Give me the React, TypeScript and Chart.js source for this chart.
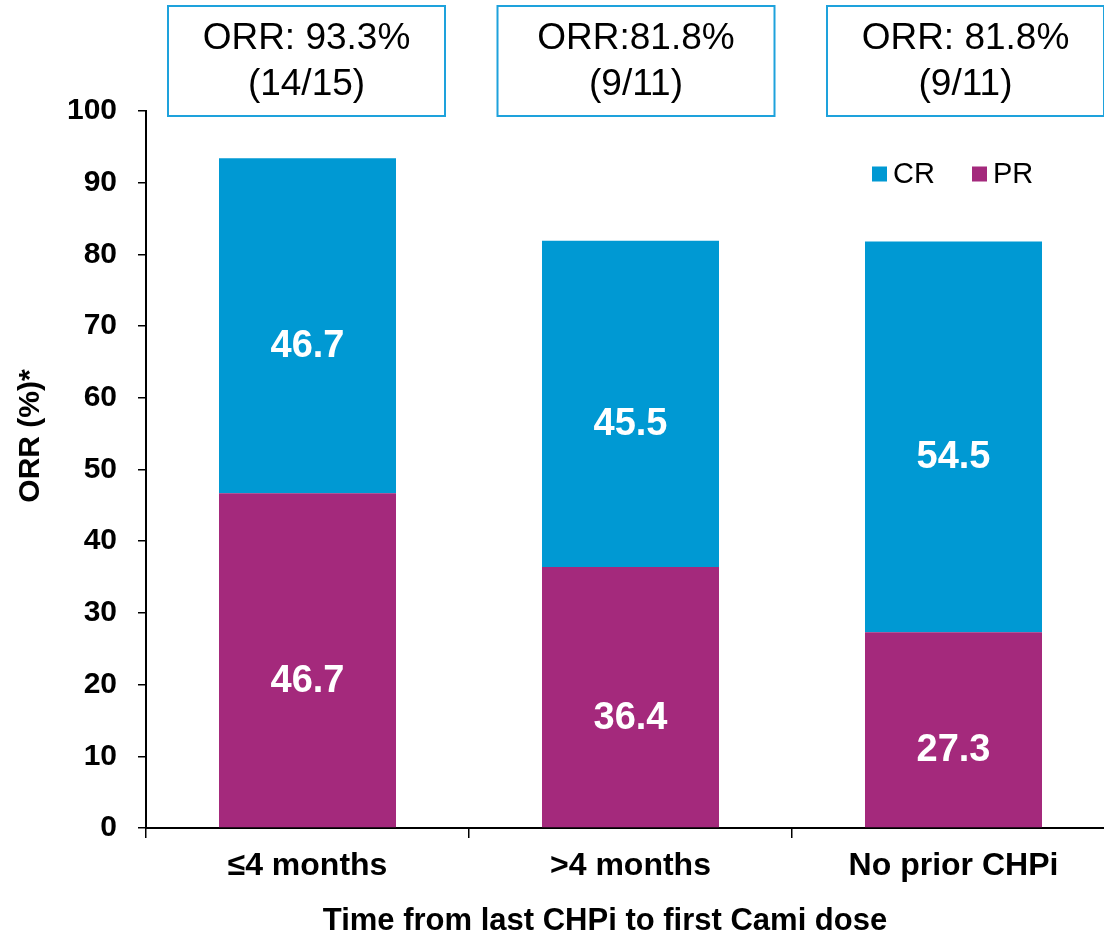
import React, { useEffect, useRef } from "react";
import { Chart, registerables } from "chart.js";

Chart.register(...registerables);

const FONT = 'Arial, "Liberation Sans", sans-serif';

const categories = ["\u22644 months", ">4 months", "No prior CHPi"];
const crValues = [46.7, 45.5, 54.5];
const prValues = [46.7, 36.4, 27.3];
const orrLine1 = ["ORR: 93.3%", "ORR:81.8%", "ORR: 81.8%"];
const orrLine2 = ["(14/15)", "(9/11)", "(9/11)"];
const yTicks = [0, 10, 20, 30, 40, 50, 60, 70, 80, 90, 100];
const xTitle = "Time from last CHPi to first Cami dose";
const yTitle = "ORR (%)*";

const CR_COLOR = "#0099D3";
const PR_COLOR = "#A4297C";
const BOX_COLOR = "#1EA2DC";

const overlayPlugin = {
  id: "overlay",
  afterDatasetsDraw(chart: any) {
    const ctx = chart.ctx;
    ctx.save();
    ctx.fillStyle = "#ffffff";
    ctx.font = `bold 38px ${FONT}`;
    ctx.textAlign = "center";
    ctx.textBaseline = "middle";
    chart.data.datasets.forEach((ds: any, di: number) => {
      const meta = chart.getDatasetMeta(di);
      meta.data.forEach((bar: any, i: number) => {
        const v = ds.data[i];
        const cy = (bar.y + bar.base) / 2 + 21;
        ctx.fillText(v.toFixed(1), bar.x, cy);
      });
    });
    ctx.restore();
  },
  afterDraw(chart: any) {
    const ctx = chart.ctx;
    const area = chart.chartArea;
    ctx.save();
    // ORR boxes
    categories.forEach((_, i) => {
      const cx = area.left + 160.5 + i * 329.5;
      const w = 277;
      const h = 110;
      const top = 6;
      ctx.fillStyle = "#ffffff";
      ctx.fillRect(cx - w / 2, top, w, h);
      ctx.strokeStyle = BOX_COLOR;
      ctx.lineWidth = 2;
      ctx.strokeRect(cx - w / 2, top, w, h);
      ctx.fillStyle = "#000000";
      ctx.font = `37px ${FONT}`;
      ctx.textAlign = "center";
      ctx.textBaseline = "middle";
      ctx.fillText(orrLine1[i], cx, 39);
      ctx.fillText(orrLine2[i], cx, 85);
    });
    // legend (CR, PR)
    const legendItems = [chart.data.datasets[1], chart.data.datasets[0]];
    let lx = area.right - 243;
    const ly = 174;
    legendItems.forEach((ds: any) => {
      ctx.fillStyle = ds.backgroundColor;
      ctx.fillRect(lx, ly - 7.5, 15, 15);
      ctx.fillStyle = "#000000";
      ctx.font = `29px ${FONT}`;
      ctx.textAlign = "left";
      ctx.textBaseline = "middle";
      ctx.fillText(ds.label, lx + 21, ly + 1);
      lx += 100;
    });
    // axis titles
    ctx.fillStyle = "#000000";
    ctx.font = `bold 31px ${FONT}`;
    ctx.textAlign = "center";
    ctx.textBaseline = "middle";
    ctx.fillText(xTitle, area.left + 459, 921);
    ctx.save();
    ctx.translate(31, 436);
    ctx.rotate(-Math.PI / 2);
    ctx.font = `bold 30px ${FONT}`;
    ctx.fillText(yTitle, 0, 0);
    ctx.restore();
    ctx.restore();
  },
};

export default function App() {
  const ref = useRef<HTMLCanvasElement | null>(null);

  useEffect(() => {
    if (!ref.current) return;
    const chart = new Chart(ref.current, {
      type: "bar",
      data: {
        labels: categories,
        datasets: [
          {
            label: "PR",
            data: prValues,
            backgroundColor: PR_COLOR,
            categoryPercentage: 1,
            barPercentage: 0.548,
          },
          {
            label: "CR",
            data: crValues,
            backgroundColor: CR_COLOR,
            categoryPercentage: 1,
            barPercentage: 0.548,
          },
        ],
      },
      options: {
        responsive: false,
        animation: false,
        layout: { padding: { top: 111, left: 0, right: 0, bottom: 0 } },
        plugins: {
          legend: { display: false },
          tooltip: { enabled: false },
        },
        scales: {
          x: {
            stacked: true,
            offset: true,
            border: { display: true, color: "#000000", width: 2 },
            grid: {
              offset: true,
              drawOnChartArea: false,
              drawTicks: true,
              tickLength: 10,
              color: "#000000",
              lineWidth: 1.5,
            },
            ticks: {
              color: "#000000",
              padding: 9,
              font: { family: FONT, size: 32, weight: "bold" },
              maxRotation: 0,
            },
            title: { display: false },
            afterFit(scale: any) {
              scale.height = 109;
            },
          },
          y: {
            stacked: true,
            min: 0,
            max: 100,
            afterBuildTicks(scale: any) {
              scale.ticks = yTicks.map((v) => ({ value: v }));
            },
            border: { display: true, color: "#000000", width: 2 },
            grid: {
              drawOnChartArea: false,
              drawTicks: true,
              tickLength: 8,
              color: "#000000",
              lineWidth: 1.5,
            },
            ticks: {
              color: "#000000",
              padding: 21,
              font: { family: FONT, size: 30, weight: "bold" },
            },
            title: { display: false },
            afterFit(scale: any) {
              scale.width = 146;
            },
          },
        },
      },
      plugins: [overlayPlugin],
    } as any);
    return () => chart.destroy();
  }, []);

  return (
    <div
      style={{
        position: "fixed",
        left: 0,
        top: 0,
        width: 1104,
        height: 937,
        overflow: "hidden",
        background: "#ffffff",
      }}
    >
      <canvas ref={ref} width={1115} height={937} style={{ display: "block" }} />
    </div>
  );
}
